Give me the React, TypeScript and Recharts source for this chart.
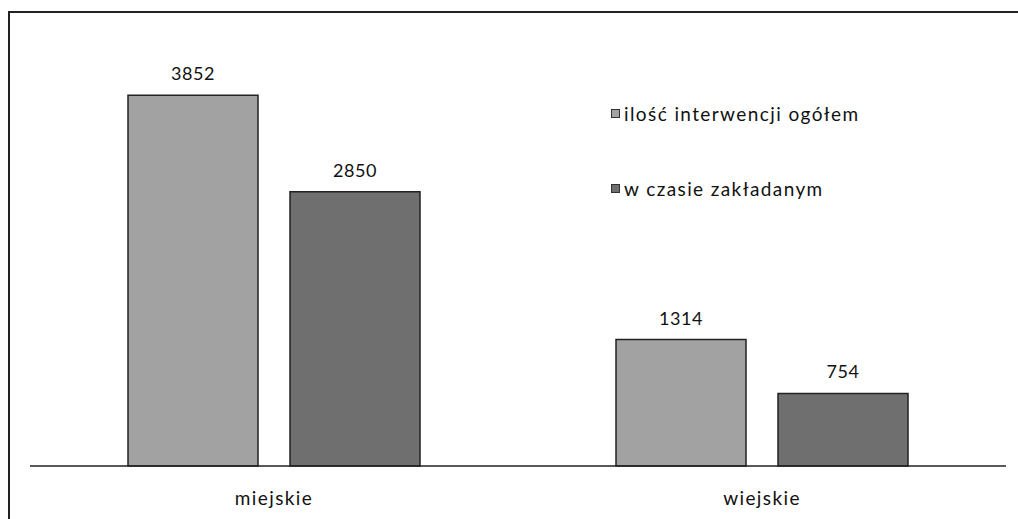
import React from 'react';
import { BarChart, Bar, XAxis, YAxis, LabelList } from 'recharts';

const categories = ['miejskie', 'wiejskie'];
const totalInterventions = [3852, 1314];
const onTimeInterventions = [2850, 754];
const seriesNames = ['ilość interwencji ogółem', 'w czasie zakładanym'];

const data = categories.map((name, i) => ({
  name,
  total: totalInterventions[i],
  onTime: onTimeInterventions[i],
}));

const FONT = 'Lato, "Open Sans", sans-serif';
const colors = ['#a2a2a2', '#6f6f6f'];

const Legend = () => (
  <div style={{ position: 'absolute', left: 611, top: 101, fontFamily: FONT, fontSize: 19, letterSpacing: 1.4, color: '#111' }}>
    {seriesNames.map((s, i) => (
      <div key={s} style={{ display: 'flex', alignItems: 'center', height: 24, marginBottom: i === 0 ? 51 : 0 }}>
        <span style={{ width: 7, height: 7, background: colors[i], border: '1px solid #333', marginRight: 4, display: 'inline-block' }} />
        <span>{s}</span>
      </div>
    ))}
  </div>
);

const labelStyle = { fill: '#111', fontSize: 18, fontFamily: FONT, letterSpacing: 0.6 };

export default function App() {
  return (
    <div style={{ position: 'absolute', left: 0, top: 0, width: 1018, height: 519, background: '#fff', overflow: 'hidden' }}>
      <div style={{ position: 'absolute', left: 8, top: 11, width: 1020, height: 520, borderLeft: '2px solid #222', borderTop: '2px solid #222' }} />
      <BarChart
        width={1018}
        height={519}
        data={data}
        margin={{ top: 33, right: 12, bottom: 13, left: 30 }}
        barGap={32}
        style={{ position: 'absolute', left: 0, top: 0 }}
      >
        <YAxis hide domain={[0, 4500]} />
        <XAxis
          dataKey="name"
          height={40}
          axisLine={{ stroke: '#222', strokeWidth: 1.5 }}
          tickLine={false}
          tick={{ fill: '#111', fontSize: 19, fontFamily: FONT, letterSpacing: 1.4 }}
          dy={18}
        />
        <Bar dataKey="total" name={seriesNames[0]} fill={colors[0]} stroke="#222" strokeWidth={1.5} barSize={130} isAnimationActive={false}>
          <LabelList dataKey="total" position="top" offset={15} style={labelStyle} />
        </Bar>
        <Bar dataKey="onTime" name={seriesNames[1]} fill={colors[1]} stroke="#222" strokeWidth={1.5} barSize={130} isAnimationActive={false}>
          <LabelList dataKey="onTime" position="top" offset={15} style={labelStyle} />
        </Bar>
      </BarChart>
      <Legend />
    </div>
  );
}
